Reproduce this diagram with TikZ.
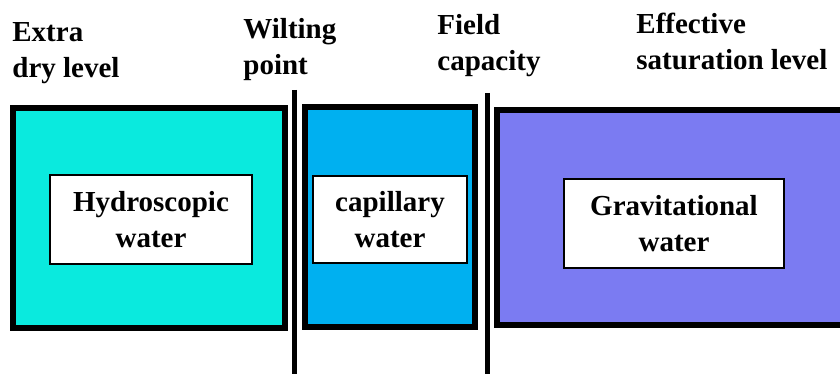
\documentclass[tikz,border=0pt]{standalone}
\usepackage{fontspec}
\setmainfont{Liberation Serif}
\usetikzlibrary{positioning}
\definecolor{hygro}{RGB}{10,234,222}
\definecolor{capil}{RGB}{0,176,240}
\definecolor{gravi}{RGB}{123,123,242}

\begin{document}
\begin{tikzpicture}[x=0.5pt,y=-0.5pt,
  zone/.style={draw=black,line width=3pt,inner sep=0pt},
  waterbox/.style={draw=black,fill=white,line width=0.75pt,align=center,inner sep=0pt,font=\fontsize{14.5}{18}\selectfont\bfseries},
  level/.style={anchor=base west,align=left,inner sep=0pt,font=\fontsize{14.5}{18}\selectfont\bfseries}]
\clip (0,0) rectangle (840,374);
% \draw[help lines] (0,0) grid (840,374);
\node (hyz) [zone,fill=hygro,minimum width=136pt,minimum height=110pt] at (149,218) {};
\node (caz) [zone,fill=capil,minimum width=85pt,minimum height=110pt] at (390,217) {};
\node (grz) [zone,fill=gravi,minimum width=174pt,minimum height=107.5pt] at (671,217.5) {};
%
\node (hyw) [waterbox,minimum width=101pt,minimum height=44.5pt] at (151,219.5) {Hydroscopic\\water};
\node (caw) [waterbox,minimum width=77pt,minimum height=43.5pt] at (390,219.5) {capillary\\water};
\node (grw) [waterbox,minimum width=110pt,minimum height=44.5pt] at (674,223.5) {Gravitational\\water};
%
\coordinate (wp top) at (294.5,90);
\coordinate (wp end) at (294.5,374);
\coordinate (fc top) at (487.5,93);
\coordinate (fc end) at (487.5,374);
\draw[line width=2.5pt] (wp top) -- (wp end);
\draw[line width=2.5pt] (fc top) -- (fc end);
%
\node (dry) [level] at (12,78) {Extra\\dry level};
\node (wilt) [level] at (243,75) {Wilting\\point};
\node (field) [level] at (437,71) {Field\\capacity};
\node (sat) [level] at (636,70) {Effective\\saturation level};
\end{tikzpicture}
\end{document}
